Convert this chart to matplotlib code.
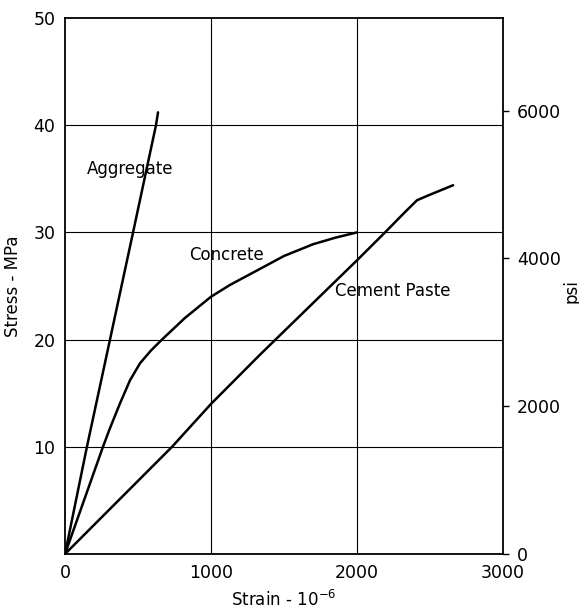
import numpy as np
import matplotlib
matplotlib.use("Agg")
import matplotlib.pyplot as plt

# stress-strain curves (strain in 1e-6, stress in MPa)
aggregate_strain = [0, 150, 308, 466, 623, 637]
aggregate_stress = [0, 10, 20, 30, 40, 41.2]

concrete_strain = [0, 130, 260, 304, 375, 445, 514, 590, 664, 820, 1000, 1130, 1336, 1500, 1700, 1850, 2000]
concrete_stress = [0, 5, 10, 11.6, 14.0, 16.2, 17.8, 19.0, 20, 22.0, 24, 25.1, 26.6, 27.8, 28.9, 29.5, 30.0]

paste_strain = [0, 733, 1000, 1336, 2000, 2192, 2329, 2411, 2479, 2658]
paste_stress = [0, 10, 14, 18.6, 27.4, 30, 31.9, 33.0, 33.4, 34.4]

x_ticks = [0, 1000, 2000, 3000]
y_ticks = [10, 20, 30, 40, 50]
psi_ticks = [0, 2000, 4000, 6000]
MPA_TO_PSI = 145.04

plt.rcParams['font.family'] = ['DejaVu Sans']
plt.rcParams['font.size'] = 12

fig = plt.figure(figsize=(5.79, 6.12), dpi=100)
ax = fig.add_axes([0.1123, 0.0948, 0.7565, 0.8758])

for xs, ys in [(aggregate_strain, aggregate_stress),
               (concrete_strain, concrete_stress),
               (paste_strain, paste_stress)]:
    ax.plot(xs, ys, color='black', lw=1.8, solid_capstyle='round', solid_joinstyle='round')

ax.set_xlim(0, 3000)
ax.set_ylim(0, 50)
ax.set_xticks(x_ticks)
ax.set_xticklabels([str(v) for v in x_ticks])
ax.set_yticks(y_ticks)
ax.set_yticklabels([str(v) for v in y_ticks])
ax.tick_params(length=0, pad=7, labelsize=12.5)

for v in [1000, 2000]:
    ax.axvline(v, color='black', lw=0.8)
for v in [10, 20, 30, 40]:
    ax.axhline(v, color='black', lw=0.8)

for s in ax.spines.values():
    s.set_linewidth(1.3)

ax.set_xlabel(r'Strain - 10$^{-6}$', fontsize=12, labelpad=6)
ax.set_ylabel('Stress - MPa', fontsize=12, labelpad=8)

ax.text(148, 35.9, 'Aggregate', fontsize=12, va='center')
ax.text(850, 27.9, 'Concrete', fontsize=12, va='center')
ax.text(1850, 24.5, 'Cement Paste', fontsize=12, va='center')

ax2 = ax.twinx()
ax2.set_ylim(0, 50 * MPA_TO_PSI)
ax2.set_yticks(psi_ticks)
ax2.set_yticklabels([str(v) for v in psi_ticks])
ax2.tick_params(length=4, width=1, pad=6, labelsize=12.5)
for s in ax2.spines.values():
    s.set_visible(False)
ax2.set_ylabel('psi', fontsize=12)
ax2.yaxis.set_label_coords(1.135, 0.49)

fig.savefig('out.png', dpi=100)
